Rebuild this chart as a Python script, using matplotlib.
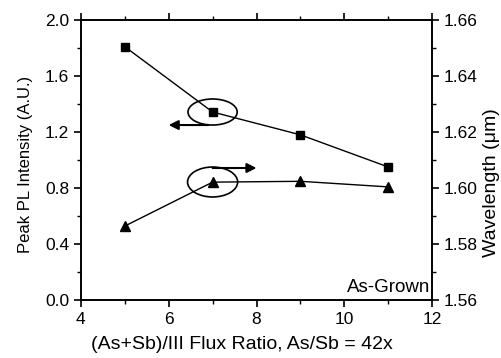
import matplotlib
matplotlib.use("Agg")
import matplotlib.pyplot as plt
from matplotlib.patches import Ellipse
from matplotlib.ticker import MultipleLocator

plt.rcParams["font.family"] = ["Liberation Sans", "DejaVu Sans"]

flux_ratio = [5, 7, 9, 11]
pl_intensity = [1.81, 1.343, 1.18, 0.95]
wavelength = [1.5864, 1.6021, 1.6024, 1.6004]

fig = plt.figure(figsize=(5.02, 3.58), dpi=100)
ax = fig.add_axes([0.161, 0.162, 0.700, 0.782])
ax2 = ax.twinx()

ax.plot(flux_ratio, pl_intensity, color="black", lw=1.0, marker="s", ms=6)
ax2.plot(flux_ratio, wavelength, color="black", lw=1.0, marker="^", ms=7)

ax.set_xlim(4, 12)
ax.set_ylim(0, 2.0)
ax2.set_ylim(1.56, 1.66)

ax.xaxis.set_major_locator(MultipleLocator(2))
ax.xaxis.set_minor_locator(MultipleLocator(1))
ax.yaxis.set_minor_locator(MultipleLocator(0.2))
ax2.yaxis.set_minor_locator(MultipleLocator(0.01))
ax.set_yticks([0, 0.4, 0.8, 1.2, 1.6, 2.0])
ax.set_yticklabels(["0.0", "0.4", "0.8", "1.2", "1.6", "2.0"])
ax2.set_yticks([1.56, 1.58, 1.60, 1.62, 1.64, 1.66])
ax2.set_yticklabels(["1.56", "1.58", "1.60", "1.62", "1.64", "1.66"])

ax.tick_params(axis="both", which="major", direction="out", length=5, width=1.2,
               labelsize=12.5, top=True)
ax.tick_params(axis="both", which="minor", direction="out", length=3, width=1.0, top=True)
ax.tick_params(axis="x", which="both", top=True, labeltop=False)
ax2.tick_params(axis="y", which="major", direction="out", length=5, width=1.2, labelsize=12.5)
ax2.tick_params(axis="y", which="minor", direction="out", length=3, width=1.0)

for a in (ax, ax2):
    for s in a.spines.values():
        s.set_linewidth(1.2)

ax.set_xlabel("(As+Sb)/III Flux Ratio, As/Sb = 42x", fontsize=14)
ax.set_ylabel("Peak PL Intensity (A.U.)", fontsize=12)
ax2.set_ylabel("Wavelength (\u03bcm)", fontsize=14)
ax.xaxis.set_label_coords(0.459, -0.13)
ax.yaxis.set_label_coords(-0.137, 0.484)
ax2.yaxis.set_label_coords(1.145, 0.42)

ax.text(11.95, 0.03, "As-Grown", ha="right", va="bottom", fontsize=13.5)

# circles and arrows marking which axis each curve belongs to
ax.add_patch(Ellipse((7.0, 1.343), 1.12, 0.186, fill=False, lw=1.2, color="black"))
ax.add_patch(Ellipse((7.0, 0.843), 1.14, 0.214, fill=False, lw=1.2, color="black"))
ax.annotate("", xy=(6.0, 1.25), xytext=(6.9, 1.25),
            arrowprops=dict(arrowstyle="-|>", color="black", lw=1.5,
                            mutation_scale=14, shrinkA=0, shrinkB=0))
ax.annotate("", xy=(8.0, 0.943), xytext=(7.0, 0.943),
            arrowprops=dict(arrowstyle="-|>", color="black", lw=1.5,
                            mutation_scale=14, shrinkA=0, shrinkB=0))

fig.savefig("out.png", dpi=100)
